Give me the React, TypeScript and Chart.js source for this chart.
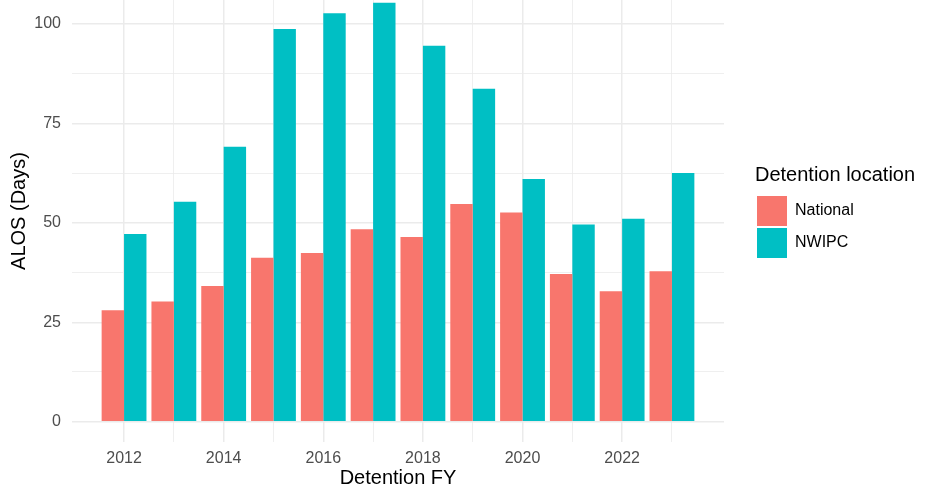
import { useEffect, useRef } from "react";
import { Chart, registerables } from "chart.js";

Chart.register(...registerables);

// data
const years = [2012, 2013, 2014, 2015, 2016, 2017, 2018, 2019, 2020, 2021, 2022, 2023];
const national = [28.0, 30.2, 34.1, 41.2, 42.4, 48.4, 46.4, 54.7, 52.6, 37.1, 32.8, 37.8];
const nwipc = [47.2, 55.3, 69.1, 98.7, 102.7, 105.3, 94.5, 83.7, 61.0, 49.6, 51.0, 62.5];
const seriesNames = ["National", "NWIPC"];
const seriesColors = ["#F8766D", "#00BFC4"];
const xLabelYears = [2012, 2014, 2016, 2018, 2020, 2022];
const yTicks = [0, 12.5, 25, 37.5, 50, 62.5, 75, 87.5, 100];
const yLabelTicks = [0, 25, 50, 75, 100];

const FONT = "'Liberation Sans', Arial, Helvetica, sans-serif";
const GRID = "#EBEBEB";

// ggplot-like legend placement: fixed width strip on the right, shifted in.
// also centres the y title on the (cropped) panel like ggplot does
const legendPlacer = {
  id: "legendPlacer",
  beforeLayout(chart: any) {
    const lg = chart.legend;
    if (lg && !lg._placed) {
      const origFit = lg.fit;
      lg.fit = function () {
        origFit.call(this);
        this.width = 216;
      };
      lg._placed = true;
    }
  },
  afterLayout(chart: any) {
    const lg = chart.legend;
    if (lg) {
      lg.left = 755;
      lg.right = 755 + lg.width;
    }
    const ys = chart.scales.y;
    if (ys) ys.top = -20;
  },
};

const App = () => {
  const canvasRef = useRef<HTMLCanvasElement>(null);

  useEffect(() => {
    if (!canvasRef.current) return;
    Chart.defaults.font.family = FONT;

    const series = [national, nwipc];
    const chart = new Chart(canvasRef.current, {
      type: "bar",
      data: {
        datasets: series.map((vals, i) => ({
          label: seriesNames[i],
          data: years.map((yr, j) => ({ x: yr, y: vals[j] })),
          backgroundColor: seriesColors[i],
          borderColor: seriesColors[i],
          borderWidth: 0,
          barPercentage: 1,
          categoryPercentage: 0.9,
        })),
      },
      options: {
        responsive: true,
        maintainAspectRatio: false,
        animation: false,
        layout: { padding: 0 },
        plugins: {
          tooltip: { enabled: false },
          legend: {
            position: "right",
            align: "start",
            labels: {
              boxWidth: 30,
              boxHeight: 30,
              padding: 2,
              color: "#000",
              font: { size: 16, family: FONT },
            },
            title: {
              display: true,
              text: "Detention location",
              position: "start",
              color: "#000",
              font: { size: 20, family: FONT },
              padding: { top: 165.5, bottom: 4.5 },
            },
          },
        },
        scales: {
          x: {
            type: "linear",
            min: 2010.955,
            max: 2024.045,
            offset: false,
            afterFit: (scale: any) => {
              scale.height = 47;
              scale.paddingLeft = 0;
              scale.paddingRight = 0;
            },
            afterBuildTicks: (scale: any) => {
              scale.ticks = years.map((v) => ({ value: v }));
            },
            ticks: {
              autoSkip: false,
              maxRotation: 0,
              minRotation: 0,
              padding: 7,
              color: "#4D4D4D",
              font: { size: 16, family: FONT },
              callback: (v: any) => (xLabelYears.includes(Number(v)) ? String(v) : ""),
            },
            grid: {
              offset: false,
              drawTicks: false,
              color: GRID,
              lineWidth: (ctx: any) => (ctx.tick && xLabelYears.includes(ctx.tick.value) ? 1.5 : 0.8),
            },
            border: { display: false },
            title: {
              display: true,
              text: "Detention FY",
              color: "#000",
              font: { size: 20, family: FONT, lineHeight: 1.1 },
              padding: { top: 0, bottom: 0 },
            },
          },
          y: {
            min: -5.1,
            max: 106,
            afterFit: (scale: any) => {
              scale.width = 72;
              scale.paddingTop = 0;
              scale.paddingBottom = 0;
            },
            afterBuildTicks: (scale: any) => {
              scale.ticks = yTicks.map((v) => ({ value: v }));
            },
            ticks: {
              padding: 11,
              color: "#4D4D4D",
              font: { size: 16, family: FONT },
              callback: (v: any) => (yLabelTicks.includes(Number(v)) ? String(v) : ""),
            },
            grid: {
              drawTicks: false,
              color: GRID,
              lineWidth: (ctx: any) => (ctx.tick && yLabelTicks.includes(ctx.tick.value) ? 1.5 : 0.8),
            },
            border: { display: false },
            title: {
              display: true,
              text: "ALOS (Days)",
              color: "#000",
              font: { size: 20, family: FONT, lineHeight: 1.2 },
              padding: { top: 7.5, bottom: 0 },
            },
          },
        },
      },
      plugins: [legendPlacer],
    });

    return () => chart.destroy();
  }, []);

  return (
    <div style={{ position: "fixed", left: 0, top: 0, width: 940, height: 489, background: "#fff" }}>
      <canvas ref={canvasRef}></canvas>
    </div>
  );
};

export default App;
